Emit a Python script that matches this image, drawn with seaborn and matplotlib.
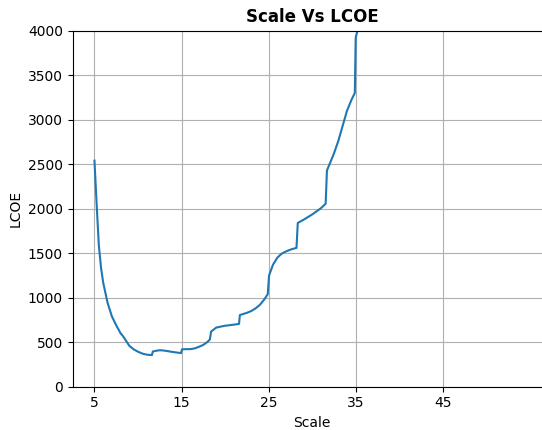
import matplotlib
matplotlib.use("Agg")
import matplotlib.pyplot as plt
import seaborn as sns
import pandas as pd

# Plant scale and levelised cost of energy
scale = [5.0, 5.25, 5.5, 5.75, 6.0, 6.5, 7.0, 7.5, 8.0, 8.3, 8.6, 9.0, 9.5, 10.0,
         10.5, 11.0, 11.6, 11.7, 12.0, 12.5, 13.0, 13.5, 14.0, 14.5, 14.95, 15.05,
         15.5, 16.0, 16.5, 17.0, 17.5, 18.0, 18.25, 18.4, 19.0, 20.0, 21.0, 21.6,
         21.7, 22.5, 23.0, 23.5, 24.0, 24.5, 24.9, 25.05, 25.5, 26.0, 26.5, 27.0,
         27.5, 28.2, 28.35, 29.0, 29.5, 30.0, 30.5, 31.0, 31.55, 31.7, 32.0, 32.5,
         33.0, 33.5, 34.0, 34.5, 34.9, 35.0, 35.2, 35.5]
lcoe = [2540, 2050, 1590, 1340, 1170, 945, 790, 690, 600, 565, 520, 460, 420, 393,
        372, 360, 355, 395, 402, 410, 406, 398, 390, 383, 378, 420,
        422, 422, 430, 448, 470, 505, 530, 620, 665, 685, 697, 705,
        805, 830, 850, 880, 920, 980, 1040, 1250, 1370, 1450, 1495, 1520,
        1540, 1560, 1840, 1875, 1905, 1935, 1970, 2005, 2055, 2430, 2500, 2620,
        2760, 2930, 3100, 3220, 3300, 3920, 4000, 4080]
x_ticks = [5, 15, 25, 35, 45]

df = pd.DataFrame({"Scale": scale, "LCOE": lcoe})

fig = plt.figure(figsize=(5.42, 4.30), dpi=100)
ax = fig.add_axes([72.7 / 542, (430 - 386.7) / 430,
                   (551.6 - 72.7) / 542, (386.7 - 30.7) / 430])

sns.lineplot(data=df, x="Scale", y="LCOE", ax=ax, color="tab:blue",
             linewidth=1.5, sort=False)

ax.set_xlim(2.5, 57.5)
ax.set_ylim(0, 4000)
ax.set_xticks(x_ticks)
ax.grid(True)
ax.set_axisbelow(True)
ax.set_title("Scale Vs LCOE", fontweight="bold")
ax.set_xlabel("Scale")
ax.set_ylabel("LCOE")

fig.savefig("out.png", dpi=100)
